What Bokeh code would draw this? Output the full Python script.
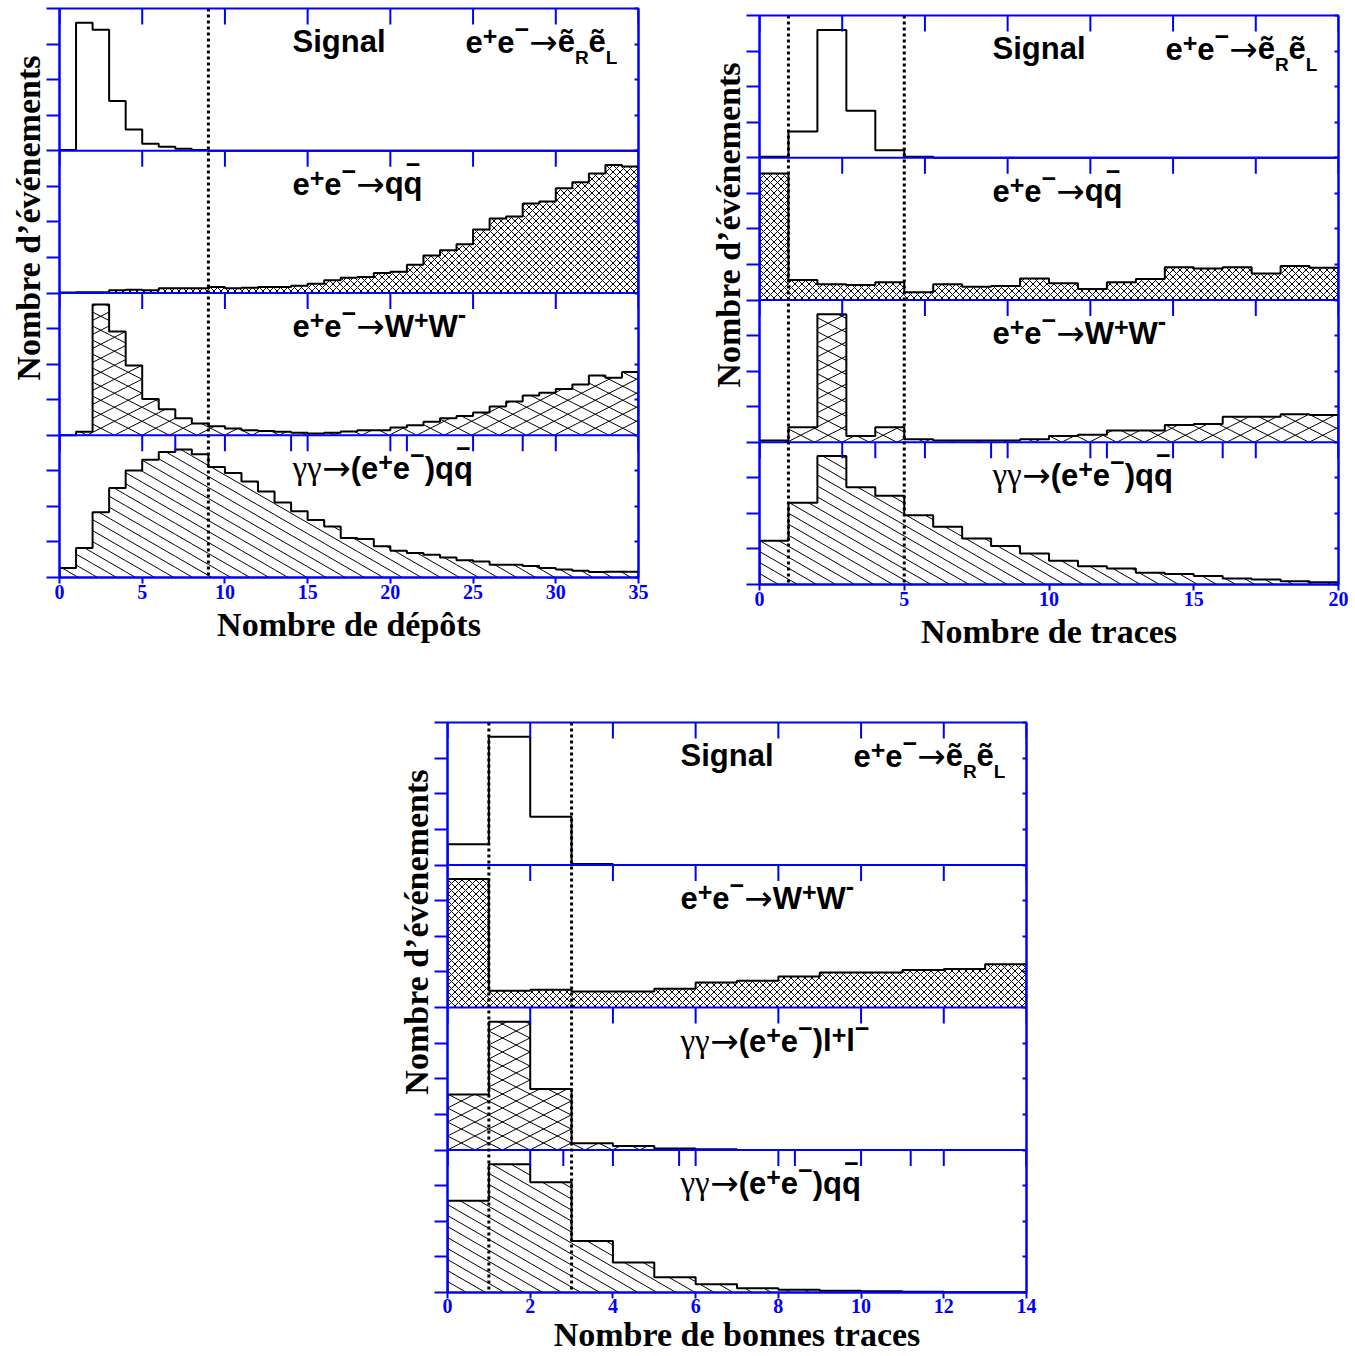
import math
import numpy as np
from bokeh.plotting import figure
from bokeh.models import (Range1d, LinearAxis, FixedTicker, Span, Label, Spacer, Title,
                          CustomJSTickFormatter)
from bokeh.layouts import row, column
from bokeh.embed import file_html
from bokeh.resources import INLINE

# ---------------- data (arbitrary units: % of each sub-panel scale) ----------------
# Panel A : Nombre de dépôts, bins of width 1 from 0 to 35
dep_edges = list(range(0, 36))
dep_signal = [0.5, 90, 85, 35, 15, 5, 2.8, 1.4, 0.5, 0, 0, 0, 0, 0, 0, 0, 0, 0, 0, 0,
              0, 0, 0, 0, 0, 0, 0, 0, 0, 0, 0, 0, 0, 0, 0]
dep_qq = [0.3, 0.5, 0.5, 1.9, 2.3, 1.9, 3.3, 3.3, 3.3, 4.2, 3.3, 3.7, 4.2, 4.2, 5.1, 6.5,
          8.9, 10.7, 11.2, 14.0, 15.0, 19.9, 26.4, 30.0, 34.3, 44.6, 52.3, 53.7, 63.0,
          64.3, 73.6, 77.8, 84.0, 90.0, 89.0]
dep_ww = [0, 2.4, 92, 73, 49, 25.5, 18.3, 11.9, 8.3, 6.4, 4.8, 3.6, 2.9, 2.4, 1.7, 1.2,
          1.7, 2.6, 3.6, 3.6, 5.5, 7.1, 9.5, 11.9, 13.6, 16.0, 20.2, 23.8, 27.9, 29.8,
          32.6, 35.7, 42.0, 40.5, 44.5]
dep_gg = [6.6, 20.7, 45.9, 63.0, 75.3, 82.8, 88.2, 89.9, 86.6, 77.6, 73.4, 67.5, 60.5,
          52.7, 46.6, 40.5, 35.8, 27.8, 27.0, 22.0, 18.8, 17.2, 16.0, 14.1, 12.2, 11.3,
          8.9, 8.9, 8.0, 6.6, 5.6, 4.7, 3.8, 4.0, 4.0]
dep_cuts = [9]
dep_ticks = [0, 5, 10, 15, 20, 25, 30, 35]

# Panel B : Nombre de traces, bins of width 1 from 0 to 20
trk_edges = list(range(0, 21))
trk_signal = [0.7, 18.4, 89.8, 33.1, 5.2, 0.7, 0, 0, 0, 0, 0, 0, 0, 0, 0, 0, 0, 0, 0, 0]
trk_qq = [89, 14, 11, 10.5, 12.4, 5.4, 11, 9.4, 9.8, 15.2, 11.7, 7.7, 12.4, 14.8, 23,
          22.2, 23, 18.7, 23.9, 22.7]
trk_ww = [1.2, 10.5, 90, 4.4, 10.5, 2.1, 1.2, 1.2, 1.2, 2.1, 4.4, 5.2, 8.2, 8.2, 12.2,
          12.9, 18, 18, 19.7, 19.2]
trk_gg = [30.8, 57.5, 90.4, 68.3, 62.4, 48.6, 40.6, 32.4, 27, 21.8, 16.7, 12.9, 11.3,
          8.2, 7.3, 5.9, 4.2, 3.5, 2.3, 1.6]
trk_cuts = [1, 5]
trk_ticks = [0, 5, 10, 15, 20]

# Panel C : Nombre de bonnes traces, bins of width 1 from 0 to 14
bon_edges = list(range(0, 15))
bon_signal = [14.5, 90, 33.9, 0.7, 0, 0, 0, 0, 0, 0, 0, 0, 0, 0]
bon_ww = [90.2, 11.7, 12.4, 11.2, 11.2, 13.1, 17.5, 18.7, 21.7, 24.5, 24.5, 26.4, 27.1, 30.4]
bon_ll = [39, 90, 42.8, 4.7, 2.8, 1.0, 0.5, 0, 0, 0, 0, 0, 0, 0]
bon_gg = [64.3, 90, 77.3, 36.2, 21, 10.7, 5.8, 3.0, 1.9, 1.2, 0.9, 0.5, 0.2, 0.2]
bon_cuts = [1, 3]
bon_ticks = [0, 2, 4, 6, 8, 10, 12, 14]

# ---------------- style ----------------
BLUE = "#0000ff"
SANS = "Liberation Sans"
SERIF = "Liberation Serif"
FW = 579
NSUB = 4

ROLE = {
    'n': (SANS, 'bold', 31, 0),
    'p': (SANS, 'bold', 25, 6),
    'm': (SANS, 'bold', 25, 13),
    'h': (SANS, 'bold', 25, 12),
    'b': (SANS, 'bold', 19, -16),
    'a': ("DejaVu Sans", 'normal', 34, 0),
    'g': (SERIF, 'normal', 33, 0),
}
WID = {'e': .556, 'ẽ': .556, 'q': .611, 'W': .944, 'S': .667, 'i': .278, 'g': .611,
       'n': .611, 'a': .556, 'l': .278, 'R': .722, 'L': .611, '(': .333, ')': .333,
       '+': .584, '−': .584, '-': .333, '→': .838, 'γ': .45}


def twidth(txt, size):
    return sum(WID.get(ch, .6) for ch in txt) * size


def add_text(p, txt, role, y, xoff, yoff):
    font, style, size, dy = ROLE[role]
    p.add_layout(Label(x=0, y=y, x_offset=xoff, y_offset=yoff + dy, text=txt,
                       text_font=font, text_font_style=style,
                       text_font_size=f"{size}px", text_color="black",
                       text_align="left", text_baseline="alphabetic"))


def rich(p, parts, y, xoff, yoff=-33):
    cur = xoff
    for txt, role in parts:
        if role == 'qb':
            add_text(p, "q", 'n', y, cur, yoff)
            qw = twidth("q", ROLE['n'][2])
            bw = twidth("−", ROLE['m'][2])
            add_text(p, "−", 'm', y, cur + (qw - bw) / 2, yoff + 7)
            cur += qw
        else:
            add_text(p, txt, role, y, cur, yoff)
            cur += twidth(txt, ROLE[role][2])


def hatch_segments(edges, vals, base, ppx, ppy, angle, vper):
    m = math.tan(math.radians(angle))
    x0s, y0s, x1s, y1s = [], [], [], []
    for i, v in enumerate(vals):
        if v <= 0:
            continue
        X0, X1 = edges[i] * ppx, edges[i + 1] * ppx
        H = v / 100 * ppy
        cs = [-m * X0, -m * X1, H - m * X0, H - m * X1]
        kmin = math.ceil(min(cs) / vper)
        kmax = math.floor(max(cs) / vper)
        for k in range(kmin, kmax + 1):
            c = k * vper
            xa = (0 - c) / m
            xb = (H - c) / m
            lo = max(X0, min(xa, xb))
            hi = min(X1, max(xa, xb))
            if hi - lo > 1e-6:
                x0s.append(lo / ppx); y0s.append(base + (m * lo + c) / ppy)
                x1s.append(hi / ppx); y1s.append(base + (m * hi + c) / ppy)
    return x0s, y0s, x1s, y1s


EE = [("e", 'n'), ("+", 'p'), ("e", 'n'), ("−", 'm'), ("→", 'a')]
LAB_SIG = [("Signal", 'n')]
LAB_SEL = EE + [("ẽ", 'n'), ("R", 'b'), ("ẽ", 'n'), ("L", 'b')]
LAB_QQ = EE + [("q", 'n'), ("q", 'qb')]
LAB_WW = EE + [("W", 'n'), ("+", 'p'), ("W", 'n'), ("-", 'h')]
GG = [("γγ", 'g'), ("→", 'a'), ("(", 'n'), ("e", 'n'), ("+", 'p'), ("e", 'n'),
      ("−", 'm'), (")", 'n')]
LAB_GQ = GG + [("q", 'n'), ("q", 'qb')]
LAB_GL = GG + [("l", 'n'), ("+", 'p'), ("l", 'n'), ("−", 'm')]

BLANK = CustomJSTickFormatter(code="return ''")


def make_panel(edges, subs, cuts, bticks, xtitle, L, R, T, B, fh, lab_so=1, ax_so=4):
    xmax = edges[-1]
    p = figure(width=L + FW + R, height=T + fh + B, x_range=Range1d(0, xmax),
               y_range=Range1d(0, NSUB), output_backend="svg", toolbar_location=None,
               min_border_left=L, min_border_right=R, min_border_top=T,
               min_border_bottom=B)
    p.xgrid.visible = False
    p.ygrid.visible = False
    p.outline_line_color = BLUE
    p.outline_line_width = 2
    p.background_fill_color = "white"
    p.border_fill_color = "white"

    xa = p.xaxis[0]
    xa.ticker = FixedTicker(ticks=bticks)
    xa.axis_line_color = BLUE
    xa.axis_line_width = 2
    xa.major_tick_line_color = BLUE
    xa.major_tick_line_width = 2
    xa.major_tick_out = 6
    xa.major_tick_in = 0
    xa.minor_tick_line_color = None
    xa.major_label_standoff = lab_so
    xa.major_label_text_font = SERIF
    xa.major_label_text_font_style = "bold"
    xa.major_label_text_font_size = "20px"
    xa.major_label_text_color = BLUE
    xa.axis_label = xtitle
    xa.axis_label_text_font = SERIF
    xa.axis_label_text_font_style = "bold"
    xa.axis_label_text_font_size = "34px"
    xa.axis_label_text_color = "black"
    xa.axis_label_standoff = ax_so

    yq = [k * 0.25 for k in range(NSUB * 4 + 1)]
    ya = p.yaxis[0]
    ya.ticker = FixedTicker(ticks=yq)
    ya.formatter = BLANK
    ya.axis_line_color = BLUE
    ya.axis_line_width = 2
    ya.major_tick_line_color = BLUE
    ya.major_tick_line_width = 2
    ya.major_tick_out = 13
    ya.major_tick_in = 0
    ya.minor_tick_line_color = None
    ya.major_label_standoff = 6
    ya.major_label_text_color = None

    ra = LinearAxis(ticker=FixedTicker(ticks=yq), formatter=BLANK, axis_line_color=BLUE,
                    axis_line_width=2, major_tick_line_color=BLUE, major_tick_line_width=2,
                    major_tick_in=4, major_tick_out=0, minor_tick_line_color=None,
                    major_label_standoff=0, major_label_text_color=None)
    p.add_layout(ra, "right")

    p.add_layout(Title(text="Nombre d’événements", align="right", offset=47,
                       text_font=SERIF, text_font_style="bold", text_font_size="34px",
                       text_color="black", standoff=0), "left")

    ppx = FW / xmax
    ppy = fh / NSUB
    for i, (vals, style, labels) in enumerate(subs):
        base = NSUB - 1 - i
        tops = [base + v / 100 for v in vals]
        if style == 'x':
            p.quad(left=edges[:-1], right=edges[1:], bottom=base, top=tops,
                   fill_alpha=0, line_color=None, hatch_pattern="x", hatch_scale=7,
                   hatch_weight=1, hatch_color="black")
        elif style in ('ww', 'gg'):
            specs = [(27, 14), (-27, 14)] if style == 'ww' else [(-30, 11)]
            for ang, vp in specs:
                x0, y0, x1, y1 = hatch_segments(edges, vals, base, ppx, ppy, ang, vp)
                p.segment(x0=x0, y0=y0, x1=x1, y1=y1, line_color="black", line_width=1)
        xs = [edges[0]]
        ys = [base]
        for j, t in enumerate(tops):
            xs += [edges[j], edges[j + 1]]
            ys += [t, t]
        xs.append(edges[-1])
        ys.append(base)
        p.line(xs, ys, line_color="black", line_width=2)
        top_y = NSUB - i
        for k, lab in enumerate(labels):
            rich(p, lab, top_y, 233 if k == 0 else 406)

    for b in range(1, NSUB):
        p.add_layout(Span(location=b, dimension="width", line_color=BLUE, line_width=2))

    tl = 16 / ppy
    tx0, ty0, ty1 = [], [], []
    for b in range(1, NSUB + 1):
        for t in np.linspace(0, xmax, 8):
            tx0.append(t); ty0.append(b); ty1.append(b - tl)
    for t in np.linspace(0, xmax, 6):
        tx0.append(t); ty0.append(1); ty1.append(1 - tl)
    p.segment(x0=tx0, y0=ty0, x1=tx0, y1=ty1, line_color=BLUE, line_width=2)

    for c in cuts:
        p.add_layout(Span(location=c, dimension="height", line_color="black",
                          line_dash="3 3", line_width=3))
    return p


p1 = make_panel(dep_edges,
                [(dep_signal, 'none', [LAB_SIG, LAB_SEL]),
                 (dep_qq, 'x', [LAB_QQ]),
                 (dep_ww, 'ww', [LAB_WW]),
                 (dep_gg, 'gg', [LAB_GQ])],
                dep_cuts, dep_ticks, "Nombre de dépôts", 59, 41, 8, 68, 569)
p2 = make_panel(trk_edges,
                [(trk_signal, 'none', [LAB_SIG, LAB_SEL]),
                 (trk_qq, 'x', [LAB_QQ]),
                 (trk_ww, 'ww', [LAB_WW]),
                 (trk_gg, 'gg', [LAB_GQ])],
                trk_cuts, trk_ticks, "Nombre de traces", 80, 15, 8, 68, 569)
p3 = make_panel(bon_edges,
                [(bon_signal, 'none', [LAB_SIG, LAB_SEL]),
                 (bon_ww, 'x', [LAB_WW]),
                 (bon_ll, 'ww', [LAB_GL]),
                 (bon_gg, 'gg', [LAB_GQ])],
                bon_cuts, bon_ticks, "Nombre de bonnes traces", 80, 20, 70, 63, 570,
                lab_so=0, ax_so=0)

layout = column(row(p1, column(Spacer(width=10, height=7), p2)),
                row(Spacer(width=367, height=10), p3))
open("out.html", "w").write(file_html(layout, INLINE))
